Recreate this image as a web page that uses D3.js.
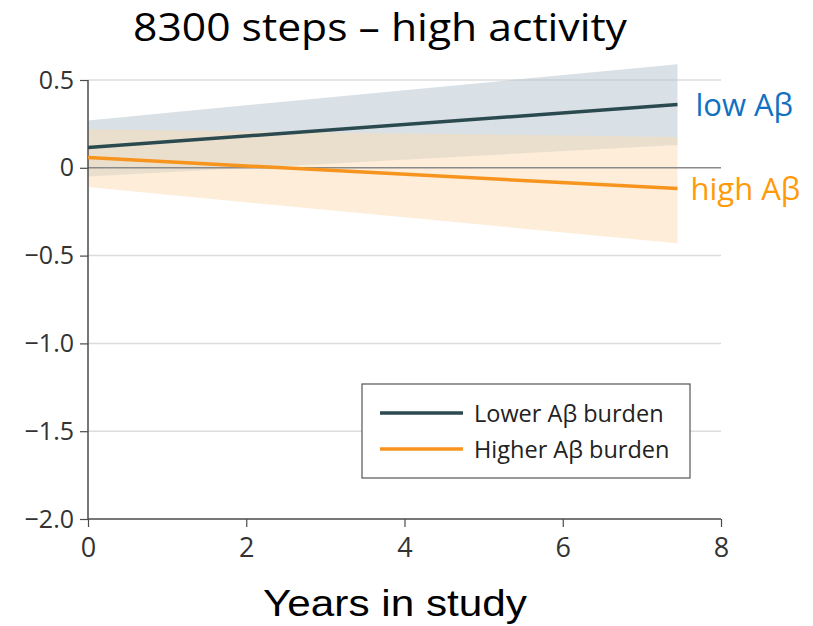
<!DOCTYPE html>
<html lang="en">
<head>
    <meta charset="UTF-8">
    <title>8300 steps - high activity</title>
    <script src="https://d3js.org/d3.v7.min.js"></script>
    <style>
        body { margin: 0; background: #fff; }
        svg { display: block; }
    </style>
</head>
<body>
<div id="chart"></div>
<script>
    // Values
    var years = [0, 7.45];
    var lowMean = [0.115, 0.36];
    var lowLower = [-0.05, 0.13];
    var lowUpper = [0.27, 0.59];
    var highMean = [0.058, -0.118];
    var highLower = [-0.11, -0.43];
    var highUpper = [0.22, 0.175];

    var yTicks = [0.5, 0, -0.5, -1.0, -1.5, -2.0];
    var yTickLabels = ["0.5", "0", "\u22120.5", "\u22121.0", "\u22121.5", "\u22122.0"];
    var xTicks = [0, 2, 4, 6, 8];

    var seriesNames = ["Lower A\u03b2 burden", "Higher A\u03b2 burden"];
    var endLabels = ["low A\u03b2", "high A\u03b2"];
    var lineColors = ["#2b4a4f", "#f7941d"];
    var bandColors = ["#b9c9d2", "#fcdcb4"];
    var labelColors = ["#0f71c0", "#ff9a0a"];

    var width = 813, height = 626;
    var plotLeft = 88, plotRight = 721, plotTop = 80, plotBottom = 519;

    var svg = d3.select("#chart").append("svg")
        .attr("width", width)
        .attr("height", height);

    var x = d3.scaleLinear().domain([0, 8]).range([plotLeft, plotRight]);
    var y = d3.scaleLinear().domain([-2, 0.5]).range([plotBottom, plotTop]);

    var tickFont = "'Open Sans', 'DejaVu Sans', sans-serif";

    // light gridlines
    svg.append("g").selectAll("line")
        .data(yTicks.filter(function(d) { return d !== 0 && d !== -2; }))
        .enter().append("line")
        .attr("x1", plotLeft).attr("x2", plotRight)
        .attr("y1", function(d) { return y(d); })
        .attr("y2", function(d) { return y(d); })
        .style("stroke", "#dcdcdc")
        .style("stroke-width", 1.5);

    // confidence bands
    var bands = [
        years.map(function(t, i) { return { x: t, lo: lowLower[i], hi: lowUpper[i] }; }),
        years.map(function(t, i) { return { x: t, lo: highLower[i], hi: highUpper[i] }; })
    ];
    var area = d3.area()
        .x(function(d) { return x(d.x); })
        .y0(function(d) { return y(d.lo); })
        .y1(function(d) { return y(d.hi); });

    bands.forEach(function(b, i) {
        svg.append("path")
            .datum(b)
            .attr("d", area)
            .style("fill", bandColors[i])
            .style("fill-opacity", i === 0 ? 0.55 : 0.5);
    });

    // zero line
    svg.append("line")
        .attr("x1", plotLeft).attr("x2", plotRight)
        .attr("y1", y(0)).attr("y2", y(0))
        .style("stroke", "#8a8a8a")
        .style("stroke-width", 1.5);

    // axes
    var yAxis = d3.axisLeft(y)
        .tickValues(yTicks)
        .tickFormat(function(d, i) { return yTickLabels[i]; })
        .tickSize(8)
        .tickPadding(6);
    var gy = svg.append("g")
        .attr("transform", "translate(" + plotLeft + ",0)")
        .call(yAxis);

    var xAxis = d3.axisBottom(x)
        .tickValues(xTicks)
        .tickFormat(d3.format("d"))
        .tickSize(8)
        .tickPadding(11);
    var gx = svg.append("g")
        .attr("transform", "translate(0," + plotBottom + ")")
        .call(xAxis);

    gx.select(".domain").attr("d", "M" + plotLeft + ",0H" + plotRight);
    gy.select(".domain").attr("d", "M0," + plotTop + "V" + plotBottom);
    [gx, gy].forEach(function(g) {
        g.select(".domain").style("stroke", "#4a4a4a").style("stroke-width", 1.5);
        g.selectAll(".tick line").style("stroke", "#4a4a4a").style("stroke-width", 1.2);
        g.selectAll(".tick text")
            .style("font-family", tickFont)
            .style("font-size", "25px")
            .style("fill", "#333");
    });
    gx.selectAll(".tick text").style("font-size", "27px");

    // mean lines
    var means = [lowMean, highMean];
    var line = d3.line()
        .x(function(d) { return x(d.x); })
        .y(function(d) { return y(d.v); });

    means.forEach(function(m, i) {
        var pts = years.map(function(t, j) { return { x: t, v: m[j] }; });
        svg.append("path")
            .datum(pts)
            .attr("d", line)
            .style("fill", "none")
            .style("stroke", lineColors[i])
            .style("stroke-width", 3.5);

        svg.append("text")
            .attr("x", x(years[1]) + (i === 0 ? 18 : 13))
            .attr("y", y(m[1]) + 11)
            .style("font-family", "'Open Sans', 'DejaVu Sans', sans-serif")
            .style("font-size", "31px")
            .style("fill", labelColors[i])
            .text(endLabels[i]);
    });

    // legend
    var legend = svg.append("g");
    legend.append("rect")
        .attr("x", 362).attr("y", 384)
        .attr("width", 328).attr("height", 94)
        .style("fill", "#fff")
        .style("stroke", "#555")
        .style("stroke-width", 1.2);

    seriesNames.forEach(function(name, i) {
        var ly = 413 + i * 36;
        legend.append("line")
            .attr("x1", 380).attr("x2", 463)
            .attr("y1", ly).attr("y2", ly)
            .style("stroke", lineColors[i])
            .style("stroke-width", 3.5);
        legend.append("text")
            .attr("x", 474)
            .attr("y", ly + 9)
            .style("font-family", tickFont)
            .style("font-size", "23.5px")
            .style("fill", "#222")
            .text(name);
    });

    // title and axis label
    svg.append("text")
        .attr("x", 380)
        .attr("y", 41)
        .attr("text-anchor", "middle")
        .style("font-family", "'Open Sans', 'DejaVu Sans', sans-serif")
        .style("font-size", "38px")
        .attr("textLength", 494)
        .attr("lengthAdjust", "spacingAndGlyphs")
        .text("8300 steps \u2013 high activity");

    svg.append("text")
        .attr("x", 395)
        .attr("y", 616)
        .attr("text-anchor", "middle")
        .style("font-family", "'Liberation Sans', Arial, sans-serif")
        .style("font-size", "37px")
        .attr("textLength", 264)
        .attr("lengthAdjust", "spacingAndGlyphs")
        .text("Years in study");
</script>
</body>
</html>
